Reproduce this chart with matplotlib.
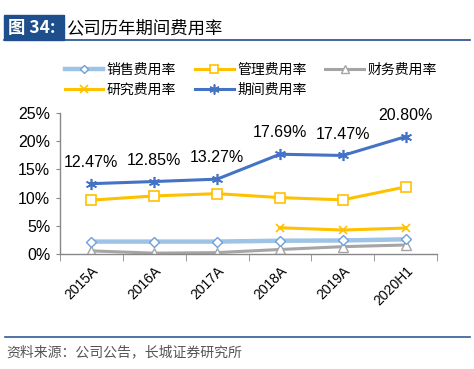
import numpy as np
import matplotlib.pyplot as plt
from matplotlib.patches import Rectangle
from matplotlib.lines import Line2D

plt.rcParams['font.family'] = ['Liberation Sans', 'Noto Sans CJK SC', 'DejaVu Sans']

years = ['2015A', '2016A', '2017A', '2018A', '2019A', '2020H1']
sales = [2.2, 2.2, 2.2, 2.35, 2.4, 2.6]
admin = [9.55, 10.3, 10.7, 10.0, 9.6, 11.9]
finance = [0.55, 0.15, 0.25, 0.8, 1.3, 1.6]
rnd = [np.nan, np.nan, np.nan, 4.65, 4.25, 4.6]
period = [12.47, 12.85, 13.27, 17.69, 17.47, 20.80]
period_labels = ['12.47%', '12.85%', '13.27%', '17.69%', '17.47%', '20.80%']

W, H = 474, 369
fig = plt.figure(figsize=(W / 100, H / 100), dpi=100)
ax = fig.add_axes([60 / W, 1 - 254 / H, 377 / W, 141 / H])

x = np.arange(len(years))
cjk = ['Noto Sans CJK SC', 'DejaVu Sans']

l_sales, = ax.plot(x, sales, color='#9DC3E6', lw=3.2, marker='D', ms=5,
                   mfc='white', mec='#6F9FD8', mew=1, label='销售费用率', zorder=3)
l_admin, = ax.plot(x, admin, color='#FFC000', lw=2.2, marker='s', ms=7,
                   mfc='white', mec='#FFC000', mew=1.2, label='管理费用率', zorder=3)
l_fin, = ax.plot(x, finance, color='#A5A5A5', lw=2.2, marker='^', ms=6.5,
                 mfc='white', mec='#A5A5A5', mew=1, label='财务费用率', zorder=2)
l_rnd, = ax.plot(x, rnd, color='#FFC000', lw=2.2, marker='x', ms=6,
                 mec='#FFC000', mew=1.2, label='研究费用率', zorder=3)
l_per, = ax.plot(x, period, color='#4472C4', lw=2.2, marker=(6, 2, 0), ms=8,
                 mec='#4472C4', mew=1.2, label='期间费用率', zorder=4)

for xi, v, t in zip(x, period, period_labels):
    ax.annotate(t, (xi, v), xytext=(0, 10), textcoords='offset points',
                ha='center', va='bottom', fontsize=11.5)

ax.set_xlim(-0.5, len(years) - 0.5)
ax.set_ylim(0, 25)
ax.set_yticks([0, 5, 10, 15, 20, 25])
ax.set_yticklabels(['0%', '5%', '10%', '15%', '20%', '25%'], fontsize=11.5)
ax.set_xticks(x)
ax.set_xticklabels(years, rotation=45, ha='right', rotation_mode='anchor', fontsize=10)
ax.set_xticks(np.arange(-0.5, len(years)), minor=True)
ax.tick_params(axis='x', which='major', length=0, pad=7)
ax.tick_params(axis='x', which='minor', length=5, color='#888888')
ax.tick_params(axis='y', length=3, color='#888888', pad=4)
for s in ['top', 'right']:
    ax.spines[s].set_visible(False)
for s in ['left', 'bottom']:
    ax.spines[s].set_color('#888888')
    ax.spines[s].set_linewidth(1)

handles = [l_sales, l_rnd, l_admin, l_per, l_fin]
leg = fig.legend(handles=handles, labels=[h.get_label() for h in handles],
                 ncol=3, loc='center left', bbox_to_anchor=(52 / W, 1 - 80 / H),
                 frameon=False, handlelength=2.8, handletextpad=0.25,
                 columnspacing=1.35, labelspacing=0.45, markerscale=0.9,
                 prop={'family': cjk, 'size': 10})

# title bar
fig.patches.append(Rectangle((4 / W, 1 - 40 / H), 60 / W, 25 / H,
                             transform=fig.transFigure, color='#1F4E8C', zorder=1))
fig.text(8 / W, 1 - 28 / H, '图 34:', color='white', fontsize=12.5, fontweight='bold',
         va='center', ha='left', family=cjk)
fig.text(66 / W, 1 - 28 / H, '公司历年期间费用率', color='black', fontsize=12.5,
         va='center', ha='left', family=cjk)
fig.lines.append(Line2D([4 / W, 470 / W], [1 - 40 / H, 1 - 40 / H],
                        transform=fig.transFigure, color='#1F4E8C', lw=1.2))

# footer
fig.lines.append(Line2D([5 / W, 470 / W], [1 - 337 / H, 1 - 337 / H],
                        transform=fig.transFigure, color='#2E5C9A', lw=1.2))
fig.text(6 / W, 1 - 352 / H, '资料来源：公司公告，长城证券研究所', color='#555555',
         fontsize=10, style='italic', va='center', ha='left', family=cjk)

fig.savefig('out.png', dpi=100)
